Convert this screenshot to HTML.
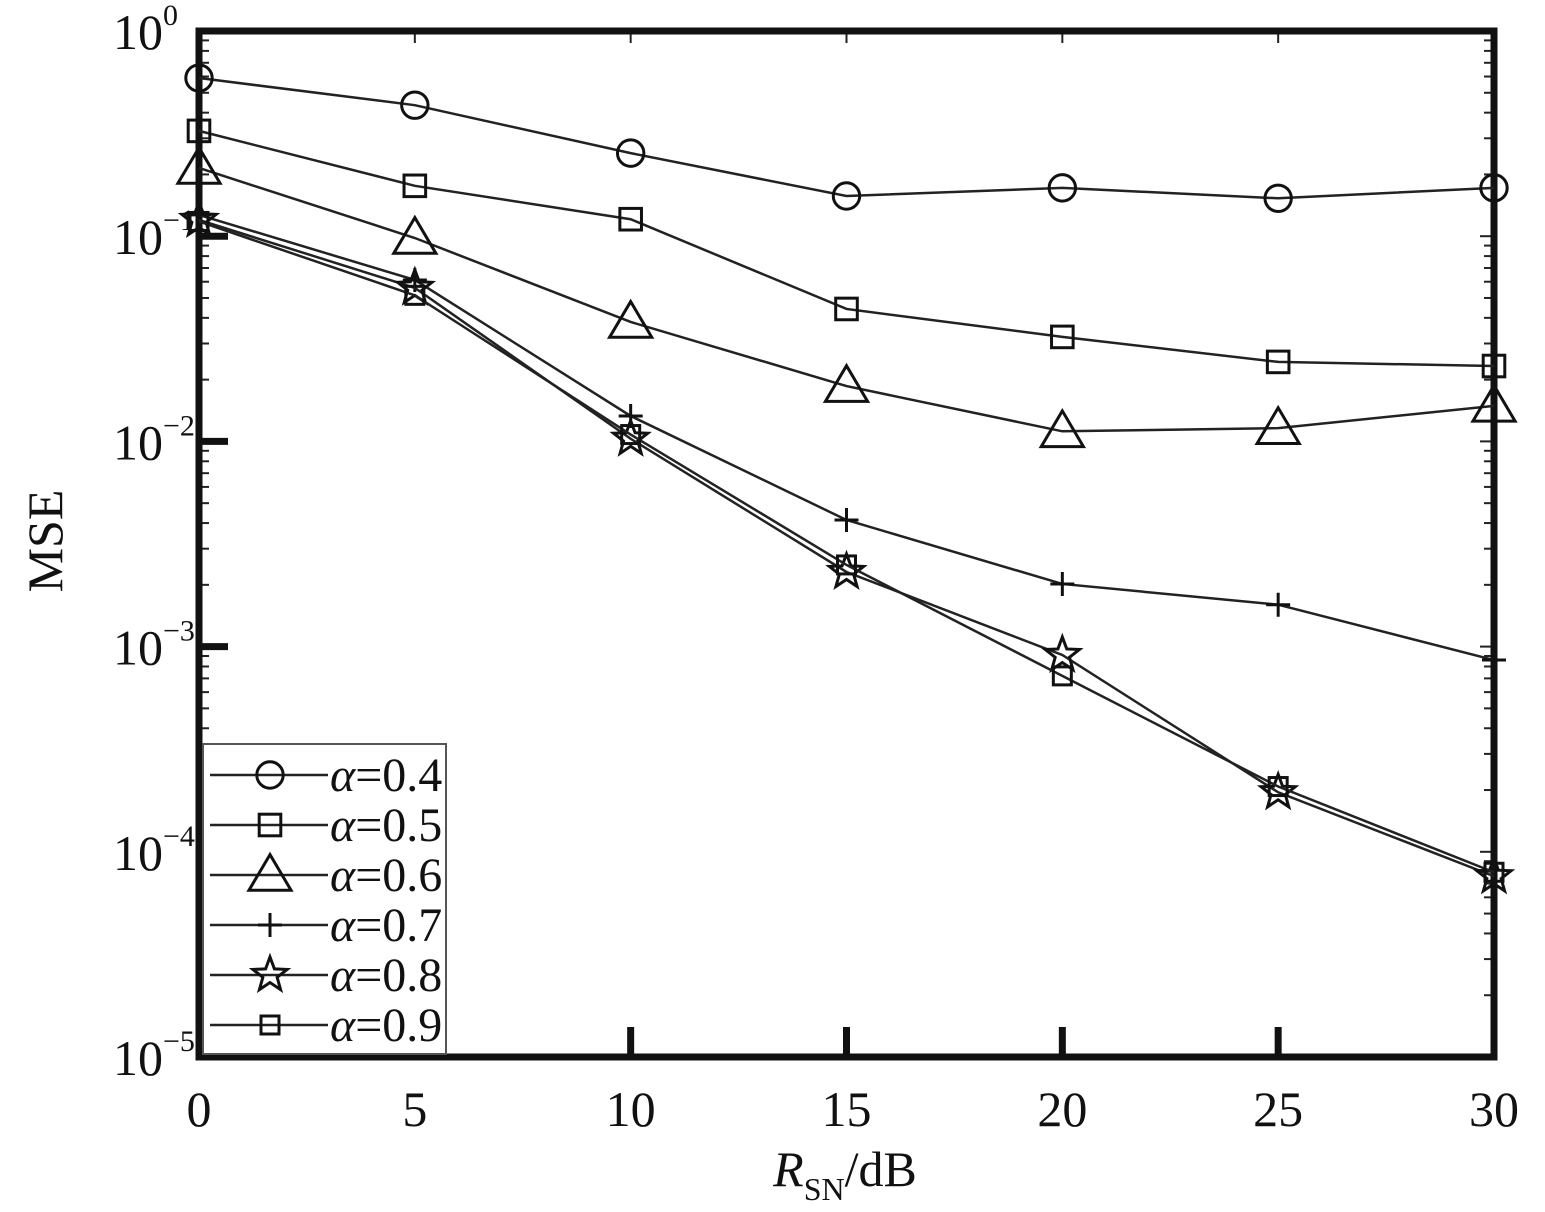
<!DOCTYPE html>
<html><head><meta charset="utf-8"><style>
body{margin:0;background:#fff}
svg text{font-family:"Liberation Serif",serif;fill:#111}
</style></head><body>
<svg id="chart" width="1545" height="1207" xmlns="http://www.w3.org/2000/svg">
<g id="axes"></g><g id="series"></g><g id="legend"></g>
</svg>
<script>
const xCats=[0,5,10,15,20,25,30];
const s04=[0.59,0.435,0.254,0.157,0.172,0.153,0.172];
const s05=[0.326,0.176,0.121,0.0442,0.0323,0.0244,0.0233];
const s06=[0.215,0.098,0.0382,0.0186,0.0112,0.0116,0.0149];
const s07=[0.127,0.0612,0.0133,0.00414,0.00202,0.0016,0.00086];
const s08=[0.12,0.056,0.0103,0.00231,0.00091,0.000195,0.000076];
const s09=[0.118,0.0515,0.0108,0.0025,0.00072,0.000208,0.0000795];
const seriesLabels=["α=0.4","α=0.5","α=0.6","α=0.7","α=0.8","α=0.9"];
const markers=["circle","square","triangle","plus","star","square"];
const yExps=[0,-1,-2,-3,-4,-5];
const xTicks=[0,5,10,15,20,25,30];
const NS="http://www.w3.org/2000/svg";
const L=199,R=1494,T=31,B=1057;
const xs=v=>L+(v-0)/30*(R-L);
const ys=v=>T+(-Math.log10(v))/5*(B-T);
function mk(tag,attrs,parent){const e=document.createElementNS(NS,tag);for(const k in attrs)e.setAttribute(k,attrs[k]);parent.appendChild(e);return e;}
const ax=document.getElementById('axes');
for(let d=0;d<5;d++){for(let m=2;m<=9;m++){const y=ys(Math.pow(10,-d-1)*m);
const t1=mk('line',{x1:L,x2:L+10,y1:y,y2:y,stroke:'#222','stroke-width':2},ax);


const t2=mk('line',{x1:R,x2:R-10,y1:y,y2:y,stroke:'#222','stroke-width':2},ax);

}}
yExps.forEach(e=>{const y=ys(Math.pow(10,e));
const t=mk('line',{x1:L,x2:L+29,y1:y,y2:y,stroke:'#111','stroke-width':7},ax);


const t2=mk('line',{x1:R,x2:R-14,y1:y,y2:y,stroke:'#222','stroke-width':2},ax);


const tx=mk('text',{x:163,y:y+18,'font-size':50,'text-anchor':'end'},ax);


tx.textContent='10';
const sp=mk('text',{x:163,y:y-6,'font-size':30},ax);


sp.textContent=e===0?'0':'−'+(-e);});
xTicks.forEach(v=>{const x=xs(v);
const t=mk('line',{x1:x,x2:x,y1:B,y2:B-30,stroke:'#111','stroke-width':7},ax);


const t2=mk('line',{x1:x,x2:x,y1:T,y2:T+12,stroke:'#222','stroke-width':2},ax);


const tx=mk('text',{x:x,y:1126,'font-size':50,'text-anchor':'middle'},ax);


tx.textContent=v;});
const fr=mk('rect',{x:L,y:T,width:R-L,height:B-T,fill:'none',stroke:'#111','stroke-width':7},ax);


const xt=mk('text',{x:845,y:1186,'font-size':50,'text-anchor':'middle'},ax);


xt.innerHTML='<tspan font-style="italic">R</tspan><tspan font-size="32" dy="14">SN</tspan><tspan dy="-14">/dB</tspan>';
const yt=mk('text',{x:0,y:0,'font-size':50,'text-anchor':'middle',transform:'translate(62,541) rotate(-90)'},ax);


yt.textContent='MSE';
function marker(type,x,y,p,s){
 if(type==='circle')return mk('circle',{cx:x,cy:y,r:s*0.55,fill:'none',stroke:'#111','stroke-width':3},p);
 if(type==='square')return mk('rect',{x:x-s*0.45,y:y-s*0.45,width:s*0.9,height:s*0.9,fill:'none',stroke:'#111','stroke-width':3},p);
 if(type==='triangle')return mk('polygon',{points:`${x},${y-s*0.6} ${x-s*0.62},${y+s*0.45} ${x+s*0.62},${y+s*0.45}`,fill:'none',stroke:'#111','stroke-width':3},p);
 if(type==='plus')return mk('path',{d:`M${x-s*0.5},${y}H${x+s*0.5}M${x},${y-s*0.5}V${y+s*0.5}`,stroke:'#111','stroke-width':3},p);
 let pts=[];for(let i=0;i<10;i++){const r=i%2?s*0.25:s*0.6,a=-Math.PI/2+i*Math.PI/5;pts.push((x+r*Math.cos(a))+','+(y+r*Math.sin(a)));}
 return mk('polygon',{points:pts.join(' '),fill:'none',stroke:'#111','stroke-width':3},p);
}
const all=[s04,s05,s06,s07,s08,s09];
const sg=document.getElementById('series');
all.forEach((s,i)=>{
 const g=mk('g',{},sg);
 
 
 const pl=mk('polyline',{points:s.map((v,j)=>xs(xCats[j])+','+ys(v)).join(' '),fill:'none',stroke:'#222','stroke-width':2.5},g);
 
 
 s.forEach((v,j)=>{const m=marker(markers[i],xs(xCats[j]),ys(v),g,i===5?20:i===2?34:i===4?30:24);
 
 });
});
const lg=document.getElementById('legend');
const lb=mk('rect',{x:203,y:744,width:243,height:310,fill:'#fff',stroke:'#555','stroke-width':2},lg);


seriesLabels.forEach((lab,i)=>{const y=775+i*50;
 const g=mk('g',{},lg);
 
 
 mk('line',{x1:210,x2:328,y1:y,y2:y,stroke:'#222','stroke-width':2.5},g);
 marker(markers[i],270,y,g,i===5?20:i===2?34:i===4?30:24);
 const t=mk('text',{x:330,y:y+16,'font-size':48},g);
 
 
 t.innerHTML='<tspan font-style="italic">α</tspan>'+lab.slice(1);
});
</script>
</body></html>
